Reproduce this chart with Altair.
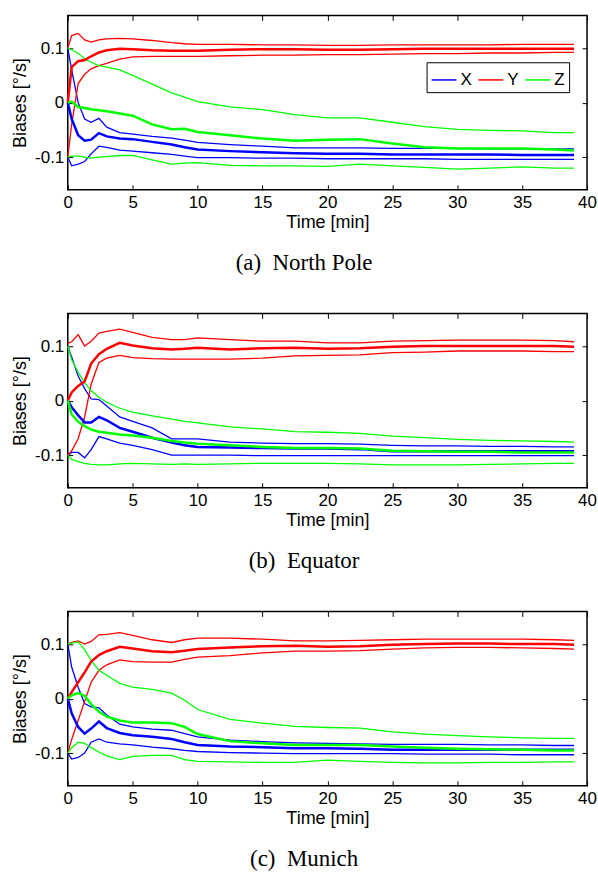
import altair as alt
import pandas as pd

# ---------------- data ----------------
TIME = [0, 0.3, 0.8, 1.3, 1.8, 2.4, 3.0, 4.0, 5.0, 6.5, 8, 9, 10, 12.5, 15,
        17.5, 20, 22.5, 25, 27.5, 30, 32.5, 35, 37.5, 39]

AXES = ["X", "Y", "Z"]
COLORS = ["#0000ff", "#ff0000", "#00ff00"]
X_TICKS = [0, 5, 10, 15, 20, 25, 30, 35, 40]
Y_TICKS = [-0.1, 0, 0.1]
CAPTIONS = ["(a)\u00a0\u00a0North Pole", "(b)\u00a0\u00a0Equator", "(c)\u00a0\u00a0Munich"]

# North Pole
NP_X_UP = [0.100, 0.060, 0.000, -0.030, -0.036, -0.029, -0.045, -0.055, -0.058, -0.062, -0.065, -0.069, -0.073, -0.077, -0.080, -0.083, -0.083, -0.083, -0.084, -0.084, -0.084, -0.085, -0.085, -0.085, -0.085]
NP_X_MEAN = [0.000, -0.030, -0.060, -0.070, -0.068, -0.056, -0.062, -0.066, -0.067, -0.072, -0.077, -0.082, -0.086, -0.089, -0.091, -0.093, -0.094, -0.094, -0.095, -0.095, -0.095, -0.095, -0.096, -0.096, -0.096]
NP_X_LOW = [-0.100, -0.116, -0.113, -0.108, -0.094, -0.080, -0.082, -0.087, -0.089, -0.092, -0.095, -0.098, -0.101, -0.101, -0.102, -0.102, -0.103, -0.103, -0.103, -0.103, -0.104, -0.104, -0.104, -0.104, -0.104]
NP_Y_UP = [0.100, 0.123, 0.127, 0.115, 0.111, 0.115, 0.117, 0.118, 0.117, 0.114, 0.110, 0.108, 0.107, 0.107, 0.106, 0.106, 0.105, 0.105, 0.106, 0.106, 0.106, 0.106, 0.107, 0.107, 0.107]
NP_Y_MEAN = [0.000, 0.065, 0.076, 0.078, 0.085, 0.092, 0.096, 0.099, 0.098, 0.096, 0.095, 0.095, 0.095, 0.097, 0.098, 0.098, 0.097, 0.097, 0.098, 0.099, 0.099, 0.099, 0.099, 0.099, 0.099]
NP_Y_LOW = [-0.100, -0.040, 0.035, 0.052, 0.062, 0.068, 0.072, 0.080, 0.084, 0.085, 0.085, 0.085, 0.085, 0.086, 0.087, 0.087, 0.088, 0.088, 0.089, 0.090, 0.090, 0.091, 0.091, 0.092, 0.092]
NP_Z_UP = [0.100, 0.097, 0.090, 0.081, 0.074, 0.068, 0.065, 0.060, 0.050, 0.034, 0.018, 0.010, 0.002, -0.008, -0.013, -0.022, -0.028, -0.028, -0.036, -0.044, -0.049, -0.051, -0.052, -0.055, -0.055]
NP_Z_MEAN = [0.000, 0.002, -0.008, -0.010, -0.012, -0.014, -0.016, -0.020, -0.024, -0.040, -0.049, -0.048, -0.054, -0.060, -0.066, -0.070, -0.068, -0.067, -0.075, -0.082, -0.084, -0.084, -0.084, -0.086, -0.088]
NP_Z_LOW = [-0.100, -0.098, -0.098, -0.100, -0.102, -0.100, -0.099, -0.097, -0.097, -0.105, -0.113, -0.111, -0.110, -0.115, -0.116, -0.116, -0.117, -0.113, -0.116, -0.119, -0.122, -0.120, -0.118, -0.120, -0.120]

# Equator
EQ_X_UP = [0.100, 0.080, 0.045, 0.022, 0.003, 0.002, -0.010, -0.030, -0.038, -0.050, -0.070, -0.070, -0.070, -0.076, -0.078, -0.079, -0.079, -0.080, -0.082, -0.083, -0.083, -0.084, -0.084, -0.085, -0.085]
EQ_X_MEAN = [0.000, -0.012, -0.027, -0.040, -0.040, -0.030, -0.036, -0.050, -0.057, -0.068, -0.077, -0.082, -0.085, -0.086, -0.087, -0.088, -0.088, -0.089, -0.093, -0.093, -0.093, -0.093, -0.093, -0.093, -0.093]
EQ_X_LOW = [-0.100, -0.095, -0.095, -0.105, -0.090, -0.066, -0.070, -0.078, -0.082, -0.090, -0.100, -0.100, -0.100, -0.100, -0.101, -0.101, -0.101, -0.101, -0.101, -0.101, -0.101, -0.101, -0.101, -0.101, -0.101]
EQ_Y_UP = [0.105, 0.108, 0.121, 0.100, 0.109, 0.124, 0.127, 0.131, 0.125, 0.116, 0.112, 0.112, 0.115, 0.112, 0.109, 0.109, 0.106, 0.106, 0.109, 0.110, 0.111, 0.111, 0.111, 0.110, 0.108]
EQ_Y_MEAN = [0.000, 0.015, 0.027, 0.035, 0.068, 0.085, 0.095, 0.106, 0.101, 0.096, 0.094, 0.095, 0.097, 0.094, 0.096, 0.097, 0.095, 0.096, 0.099, 0.100, 0.100, 0.100, 0.100, 0.100, 0.099]
EQ_Y_LOW = [-0.100, -0.092, -0.070, -0.030, 0.030, 0.070, 0.078, 0.083, 0.079, 0.077, 0.076, 0.076, 0.076, 0.076, 0.078, 0.082, 0.083, 0.084, 0.088, 0.089, 0.091, 0.091, 0.091, 0.090, 0.090]
EQ_Z_UP = [0.100, 0.075, 0.052, 0.033, 0.018, 0.006, -0.003, -0.014, -0.021, -0.028, -0.034, -0.038, -0.041, -0.048, -0.052, -0.057, -0.058, -0.060, -0.065, -0.068, -0.071, -0.073, -0.074, -0.075, -0.076]
EQ_Z_MEAN = [0.000, -0.025, -0.039, -0.047, -0.053, -0.057, -0.059, -0.062, -0.064, -0.068, -0.074, -0.077, -0.079, -0.082, -0.085, -0.087, -0.087, -0.088, -0.092, -0.093, -0.094, -0.094, -0.095, -0.095, -0.095]
EQ_Z_LOW = [-0.100, -0.108, -0.112, -0.115, -0.117, -0.118, -0.118, -0.116, -0.115, -0.116, -0.117, -0.116, -0.117, -0.116, -0.115, -0.115, -0.115, -0.116, -0.118, -0.118, -0.118, -0.117, -0.116, -0.115, -0.115]

# Munich
MU_X_UP = [0.100, 0.058, 0.021, -0.009, -0.015, -0.017, -0.030, -0.047, -0.052, -0.056, -0.058, -0.064, -0.070, -0.076, -0.079, -0.081, -0.082, -0.083, -0.084, -0.084, -0.084, -0.085, -0.085, -0.086, -0.086]
MU_X_MEAN = [0.000, -0.027, -0.052, -0.064, -0.055, -0.042, -0.054, -0.063, -0.067, -0.070, -0.074, -0.080, -0.085, -0.088, -0.089, -0.091, -0.091, -0.092, -0.094, -0.094, -0.094, -0.094, -0.094, -0.094, -0.094]
MU_X_LOW = [-0.100, -0.111, -0.108, -0.100, -0.080, -0.074, -0.080, -0.083, -0.085, -0.089, -0.092, -0.095, -0.097, -0.099, -0.100, -0.101, -0.101, -0.101, -0.101, -0.102, -0.102, -0.102, -0.103, -0.103, -0.103]
MU_Y_UP = [0.100, 0.103, 0.106, 0.100, 0.105, 0.117, 0.118, 0.121, 0.116, 0.108, 0.103, 0.108, 0.111, 0.111, 0.109, 0.106, 0.106, 0.107, 0.108, 0.109, 0.109, 0.109, 0.109, 0.108, 0.107]
MU_Y_MEAN = [0.000, 0.012, 0.030, 0.048, 0.068, 0.080, 0.087, 0.095, 0.092, 0.087, 0.085, 0.088, 0.091, 0.094, 0.096, 0.097, 0.095, 0.096, 0.099, 0.100, 0.101, 0.101, 0.100, 0.100, 0.099]
MU_Y_LOW = [-0.100, -0.075, -0.040, -0.005, 0.030, 0.052, 0.062, 0.071, 0.068, 0.067, 0.067, 0.072, 0.076, 0.079, 0.084, 0.087, 0.087, 0.088, 0.091, 0.093, 0.094, 0.094, 0.093, 0.092, 0.091]
MU_Z_UP = [0.100, 0.102, 0.104, 0.090, 0.070, 0.052, 0.043, 0.028, 0.021, 0.017, 0.010, -0.003, -0.020, -0.038, -0.045, -0.051, -0.053, -0.054, -0.061, -0.065, -0.068, -0.070, -0.072, -0.073, -0.073]
MU_Z_MEAN = [0.000, 0.006, 0.010, 0.005, -0.010, -0.024, -0.033, -0.040, -0.044, -0.044, -0.045, -0.052, -0.065, -0.078, -0.082, -0.085, -0.085, -0.085, -0.088, -0.090, -0.092, -0.093, -0.094, -0.095, -0.095]
MU_Z_LOW = [-0.100, -0.090, -0.080, -0.082, -0.090, -0.098, -0.105, -0.112, -0.106, -0.104, -0.104, -0.112, -0.115, -0.116, -0.117, -0.117, -0.113, -0.115, -0.117, -0.118, -0.118, -0.117, -0.117, -0.116, -0.116]

PANEL_SERIES = [
    [("X", NP_X_UP, NP_X_MEAN, NP_X_LOW), ("Y", NP_Y_UP, NP_Y_MEAN, NP_Y_LOW), ("Z", NP_Z_UP, NP_Z_MEAN, NP_Z_LOW)],
    [("X", EQ_X_UP, EQ_X_MEAN, EQ_X_LOW), ("Y", EQ_Y_UP, EQ_Y_MEAN, EQ_Y_LOW), ("Z", EQ_Z_UP, EQ_Z_MEAN, EQ_Z_LOW)],
    [("X", MU_X_UP, MU_X_MEAN, MU_X_LOW), ("Y", MU_Y_UP, MU_Y_MEAN, MU_Y_LOW), ("Z", MU_Z_UP, MU_Z_MEAN, MU_Z_LOW)],
]

FONT = "Liberation Sans"
W, H = 521, 175


def make_panel(idx):
    rows = []
    for name, up, mean, low in PANEL_SERIES[idx]:
        for kind, vals in (("upper", up), ("mean", mean), ("lower", low)):
            for t, v in zip(TIME, vals):
                rows.append({"t": t, "v": v, "axis": name, "kind": kind, "sid": name + "_" + kind})
    df = pd.DataFrame(rows)

    if idx == 0:
        legend = alt.Legend(
            title=None, orient="none", legendX=360, legendY=47, direction="horizontal",
            symbolType="stroke", symbolSize=620, symbolStrokeWidth=1.5,
            labelFont=FONT, labelFontSize=17, labelColor="black", labelOffset=3,
            columnPadding=3, padding=4, strokeColor="black", fillColor="white",
        )
    else:
        legend = None
    color = alt.Color("axis:N", scale=alt.Scale(domain=AXES, range=COLORS), legend=legend)

    xs = alt.Scale(domain=[0, 40], nice=False, zero=False)
    ys = alt.Scale(domain=[-0.16, 0.16], nice=False, zero=False)

    x_axis = alt.Axis(orient="bottom", values=X_TICKS, format="d", title="Time [min]",
                      offset=-5, tickSize=5, labelPadding=5, titlePadding=3, labelFlush=False)
    y_axis = alt.Axis(orient="left", values=Y_TICKS, title="Biases [°/s]",
                      labelExpr="datum.value == 0 ? '0' : (datum.value < 0 ? '-' : '') + format(abs(datum.value), '.1f')",
                      offset=-5, tickSize=5, labelPadding=4, titlePadding=5)
    x_top = alt.Axis(orient="top", values=X_TICKS, labels=False, title=None, offset=-5, tickSize=5)
    y_right = alt.Axis(orient="right", values=Y_TICKS, labels=False, title=None, offset=-5, tickSize=5)

    base = alt.Chart(df)
    thin = base.transform_filter("datum.kind != 'mean'").mark_line(strokeWidth=1.3).encode(
        x=alt.X("t:Q", scale=xs, axis=x_axis),
        y=alt.Y("v:Q", scale=ys, axis=y_axis),
        color=color, detail="sid:N",
    )
    thick = base.transform_filter("datum.kind == 'mean'").mark_line(strokeWidth=2.5).encode(
        x=alt.X("t:Q", scale=xs, axis=None),
        y=alt.Y("v:Q", scale=ys, axis=None),
        color=color, detail="sid:N",
    )
    frame = base.mark_point(opacity=0).encode(
        x=alt.X("t:Q", scale=xs, axis=x_top),
        y=alt.Y("v:Q", scale=ys, axis=y_right),
    )
    return alt.layer(thin, thick, frame).resolve_axis(x="independent", y="independent").properties(
        width=W, height=H,
        title=alt.TitleParams(text=CAPTIONS[idx], orient="bottom", font="Liberation Serif",
                              fontSize=23, fontWeight="normal", color="black", offset=20,
                              anchor="middle", frame="bounds"),
    )


chart = alt.vconcat(make_panel(0), make_panel(1), make_panel(2), spacing=36).resolve_scale(
    color="independent").resolve_legend(color="independent").properties(
    padding={"left": 10, "top": 12, "right": 0, "bottom": 0},
    background="white",
).configure_view(stroke="black", strokeWidth=1.5).configure_axis(
    grid=False, domain=False, tickColor="black", tickWidth=1,
    labelColor="black", titleColor="black", labelFont=FONT, titleFont=FONT,
    labelFontSize=17, titleFontSize=18, titleFontWeight="normal",
)

chart.save("out.html", embed_options={"renderer": "svg", "actions": False})
